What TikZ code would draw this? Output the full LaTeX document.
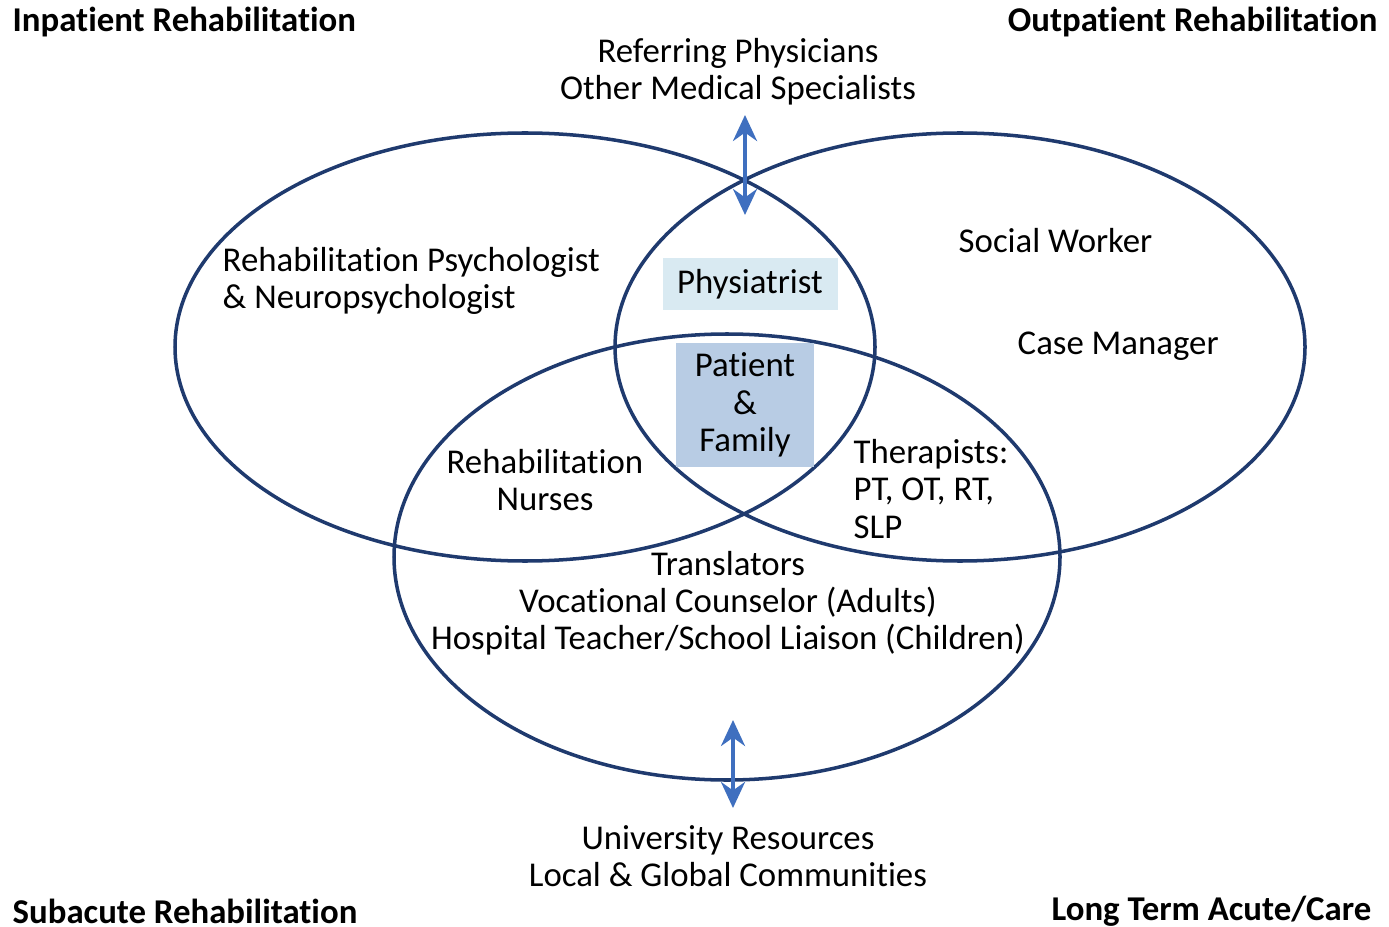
\documentclass[tikz,border=0pt]{standalone}
\usepackage{fontspec}
\setmainfont{Carlito}[Ligatures={NoCommon}]
\usepackage{tikz}
\usetikzlibrary {arrows.meta}
\definecolor{ring}{HTML}{1F3A6E}
\definecolor{arrowblue}{HTML}{3F6FBF}
\definecolor{paleblue}{HTML}{D9EAF2}
\definecolor{boxblue}{HTML}{B8CCE4}
\pgfmathsetmacro{\ry}{2.14}

\tikzset{
	venn/.style = {draw=ring, line width=1pt},
	link/.style = {line width=1.1pt, arrowblue, arrows = {Stealth[length=2.6mm, width=2.4mm]-Stealth[length=2.6mm, width=2.4mm]}},
	label/.style = {font=\fontsize{9.9}{10.6}\selectfont, align=center, inner sep=0pt},
	corner/.style = {font=\fontsize{9.9}{10.6}\selectfont\bfseries, inner sep=0pt},
}

\begin{document}
\begin{tikzpicture}
		\useasboundingbox (0, 0) rectangle (13.89, -9.27);
		\draw[venn] (5.25, -3.47) ellipse [x radius=3.50, y radius=\ry];
		\draw[venn] (9.60, -3.47) ellipse [x radius=3.45, y radius=\ry];
		\draw[venn] (7.27, -5.57) ellipse [x radius=3.33, y radius=2.23];
		\node[corner, anchor=west] (inpat) at (0.12, -0.22) {Inpatient Rehabilitation};
		\node[corner, anchor=east] (outpat) at (13.78, -0.22) {Outpatient Rehabilitation};
		\node[corner, anchor=west] (subac) at (0.12, -9.11) {Subacute Rehabilitation};
		\node[corner, anchor=east] (ltac) at (13.72, -9.11) {Long Term Acute/Care};
		\node[label] (refs) at (7.38, -0.72) {Referring Physicians\\Other Medical Specialists};
		\node[label] (unis) at (7.28, -8.56) {University Resources\\Local \& Global Communities};
		\node[label, align=left, anchor=west] (psych) at (2.22, -2.81) {Rehabilitation Psychologist\\\& Neuropsychologist};
		\node[label, anchor=west] (social) at (9.58, -2.41) {Social Worker};
		\node[label, anchor=west] (cases) at (10.17, -3.46) {Case Manager};
		\node[label, fill=paleblue, minimum width=1.75cm, minimum height=0.52cm] (physi) at (7.50, -2.84) {Physiatrist};
		\node[label, fill=boxblue, minimum width=1.38cm, minimum height=1.24cm] (patient) at (7.45, -4.05) {Patient\\\&\\Family};
		\node[label] (nurses) at (5.45, -4.80) {Rehabilitation\\Nurses};
		\node[label, align=left, anchor=west] (thera) at (8.53, -4.89) {Therapists:\\PT, OT, RT,\\SLP};
		\node[label] (trans) at (7.28, -6.03) {Translators\\Vocational Counselor (Adults)\\Hospital Teacher/School Liaison (Children)};
		\coordinate (topa) at (7.45, -1.15);
		\coordinate (topb) at (7.45, -2.15);
		\coordinate (bota) at (7.33, -7.20);
		\coordinate (botb) at (7.33, -8.08);
		\draw[link] (topa) -- (topb);
		\draw[link] (bota) -- (botb);
	\end{tikzpicture}
\end{document}
